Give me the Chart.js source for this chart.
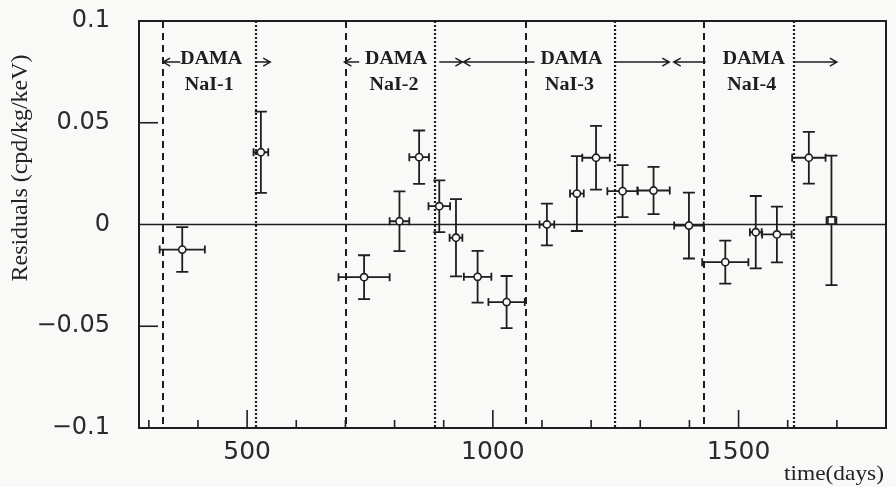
<!DOCTYPE html>
<html><head><meta charset="utf-8">
<script src="https://cdn.jsdelivr.net/npm/chart.js@4/dist/chart.umd.min.js"></script>
<style>html,body{margin:0;padding:0;background:#f9f9f8;}#wrap{width:896px;height:487px;}</style>
</head><body><div id="wrap"><canvas id="c" width="896" height="487"></canvas></div>
<script>
// ---- data ----
const days      = [368, 528, 738, 810, 850, 891, 925, 969, 1028, 1110, 1171, 1210, 1264, 1327, 1399, 1473, 1535, 1578, 1643, 1689];
const residuals = [-0.0123, 0.0355, -0.0259, 0.0016, 0.0331, 0.0090, -0.0065, -0.0257, -0.0381, 0.0000, 0.0152, 0.0328, 0.0164, 0.0167, -0.0005, -0.0185, -0.0038, -0.0049, 0.0328, 0.0020];
const dayErr    = [46, 15, 52, 20, 20, 22, 13, 28, 37, 15, 14, 28, 31, 33, 30, 47, 12, 30, 34, 10];
const residErr  = [0.0110, 0.0200, 0.0108, 0.0147, 0.0131, 0.0127, 0.0190, 0.0127, 0.0128, 0.0103, 0.0184, 0.0157, 0.0128, 0.0116, 0.0162, 0.0106, 0.0178, 0.0137, 0.0127, 0.0318];
const periodStart = [329, 702, 1068, 1429];   // dashed lines
const periodEnd   = [518, 883, 1249, 1612];   // dotted lines
const periodNames = ['NaI-1', 'NaI-2', 'NaI-3', 'NaI-4'];
const xTickValues = [500, 1000, 1500];
const yTickValues = [-0.1, -0.05, 0, 0.05, 0.1];

// ---- layout of annotations (positions in data units) ----
const labelX = [427, 803, 1160, 1531];
const arrows = [[364, 329], [518, 547], [728, 698], [891, 938], [1085, 940], [1249, 1359], [1433, 1368], [1612, 1700]];
const INK = '#1e1e1e';

function drawScaledText(ctx, text, cx, cy, font, targetW) {
  ctx.save();
  ctx.font = font;
  const w = ctx.measureText(text).width;
  ctx.translate(cx, cy);
  ctx.scale(targetW / w, 1);
  ctx.textAlign = 'center';
  ctx.textBaseline = 'middle';
  ctx.fillText(text, 0, 0);
  ctx.restore();
}

const overlay = {
  id: 'overlay',
  beforeDatasetsDraw(chart) {
    const { ctx, chartArea: a, scales: { x, y } } = chart;
    ctx.save();
    ctx.strokeStyle = INK;
    // zero line
    ctx.lineWidth = 1.6;
    ctx.beginPath();
    ctx.moveTo(a.left, y.getPixelForValue(0));
    ctx.lineTo(a.right, y.getPixelForValue(0));
    ctx.stroke();
    // period lines
    ctx.lineWidth = 2;
    ctx.setLineDash([7, 5]);
    periodStart.forEach(d => {
      const px = Math.round(x.getPixelForValue(d));
      ctx.beginPath(); ctx.moveTo(px, a.top); ctx.lineTo(px, a.bottom); ctx.stroke();
    });
    ctx.setLineDash([2, 2]);
    ctx.lineWidth = 2.2;
    periodEnd.forEach(d => {
      const px = Math.round(x.getPixelForValue(d));
      ctx.beginPath(); ctx.moveTo(px, a.top); ctx.lineTo(px, a.bottom); ctx.stroke();
    });
    ctx.setLineDash([]);
    // error bars
    ctx.lineWidth = 1.8;
    days.forEach((d, i) => {
      const px = x.getPixelForValue(d), py = y.getPixelForValue(residuals[i]);
      const x0 = x.getPixelForValue(d - dayErr[i]), x1 = x.getPixelForValue(d + dayErr[i]);
      const y0 = y.getPixelForValue(residuals[i] - residErr[i]), y1 = y.getPixelForValue(residuals[i] + residErr[i]);
      ctx.beginPath();
      ctx.moveTo(x0, py); ctx.lineTo(x1, py);
      ctx.moveTo(x0, py - 4); ctx.lineTo(x0, py + 4);
      ctx.moveTo(x1, py - 4); ctx.lineTo(x1, py + 4);
      ctx.moveTo(px, y0); ctx.lineTo(px, y1);
      ctx.moveTo(px - 6, y0); ctx.lineTo(px + 6, y0);
      ctx.moveTo(px - 6, y1); ctx.lineTo(px + 6, y1);
      ctx.stroke();
    });
    ctx.restore();
  },
  afterDatasetsDraw(chart) {
    const { ctx, chartArea: a, scales: { x, y } } = chart;
    ctx.save();
    ctx.strokeStyle = INK;
    ctx.fillStyle = INK;
    // frame
    ctx.lineWidth = 2;
    ctx.strokeRect(a.left, a.top, a.right - a.left, a.bottom - a.top);
    // x ticks (inward)
    ctx.lineWidth = 1.6;
    for (let v = 300; v <= 1700; v += 100) {
      const px = x.getPixelForValue(v);
      const len = (v % 500 === 0) ? 18 : 8;
      ctx.beginPath(); ctx.moveTo(px, a.bottom); ctx.lineTo(px, a.bottom - len); ctx.stroke();
    }
    // y ticks (inward)
    [-0.05, 0.05].forEach(v => {
      const py = y.getPixelForValue(v);
      ctx.beginPath(); ctx.moveTo(a.left, py); ctx.lineTo(a.left + 19, py); ctx.stroke();
    });
    // annotations
    const ya = y.getPixelForValue(0.0798);
    ctx.lineWidth = 1.5;
    arrows.forEach(([from, to]) => {
      const p0 = x.getPixelForValue(from), p1 = x.getPixelForValue(to);
      const dir = Math.sign(p1 - p0);
      ctx.beginPath();
      ctx.moveTo(p0, ya); ctx.lineTo(p1, ya);
      ctx.moveTo(p1 - dir * 7, ya - 4); ctx.lineTo(p1, ya); ctx.lineTo(p1 - dir * 7, ya + 4);
      ctx.stroke();
    });
    periodNames.forEach((n, i) => {
      const cx = x.getPixelForValue(labelX[i]);
      drawScaledText(ctx, 'DAMA', cx, y.getPixelForValue(0.081), 'bold 18px "Liberation Serif"', 62);
      drawScaledText(ctx, n, cx - 2, y.getPixelForValue(0.0685), 'bold 18px "Liberation Serif"', 49);
    });
    ctx.restore();
  },
  afterDraw(chart) {
    const { ctx } = chart;
    ctx.save();
    ctx.fillStyle = '#222';
    // y title (rotated)
    ctx.save();
    ctx.translate(21, 168);
    ctx.rotate(-Math.PI / 2);
    drawScaledText(ctx, 'Residuals (cpd/kg/keV)', 0, 0, '23px "Liberation Serif"', 227);
    ctx.restore();
    // x title
    drawScaledText(ctx, 'time(days)', 834, 474, '22px "Liberation Serif"', 100);
    ctx.restore();
  }
};

const fmt = v => v === 0 ? '0' : (v < 0 ? '\u2212' : '') + String(Math.abs(v));

new Chart(document.getElementById('c'), {
  type: 'scatter',
  data: {
    datasets: [{
      data: days.map((d, i) => ({ x: d, y: residuals[i] })),
      pointStyle: ctx => ctx.dataIndex === days.length - 1 ? 'rect' : 'circle',
      pointRadius: ctx => ctx.dataIndex === days.length - 1 ? 5 : 3.6,
      pointBackgroundColor: '#f9f9f8',
      pointBorderColor: INK,
      pointBorderWidth: 1.6,
      showLine: false
    }]
  },
  options: {
    responsive: false,
    animation: false,
    devicePixelRatio: 1,
    layout: { padding: { top: 21, right: 10, left: 0, bottom: 0 } },
    plugins: { legend: { display: false }, tooltip: { enabled: false } },
    scales: {
      x: {
        type: 'linear', min: 280, max: 1800,
        grid: { display: false, drawTicks: false },
        border: { display: false },
        afterBuildTicks: s => { s.ticks = xTickValues.map(v => ({ value: v })); },
        ticks: { autoSkip: false, maxRotation: 0, padding: 9, color: '#2a2a2a', font: { family: 'DejaVu Sans', size: 25 }, callback: v => String(v) },
        afterFit: s => { s.height = 59; s.paddingLeft = 0; s.paddingRight = 0; }
      },
      y: {
        min: -0.1, max: 0.1,
        grid: { display: false, drawTicks: false },
        border: { display: false },
        afterBuildTicks: s => { s.ticks = yTickValues.map(v => ({ value: v })); },
        ticks: { padding: 29, color: '#2a2a2a', font: { family: 'DejaVu Sans', size: 24 }, callback: v => fmt(v) },
        afterFit: s => { s.width = 139; s.paddingTop = 0; s.paddingBottom = 0; }
      }
    }
  },
  plugins: [overlay]
});
</script></body></html>
